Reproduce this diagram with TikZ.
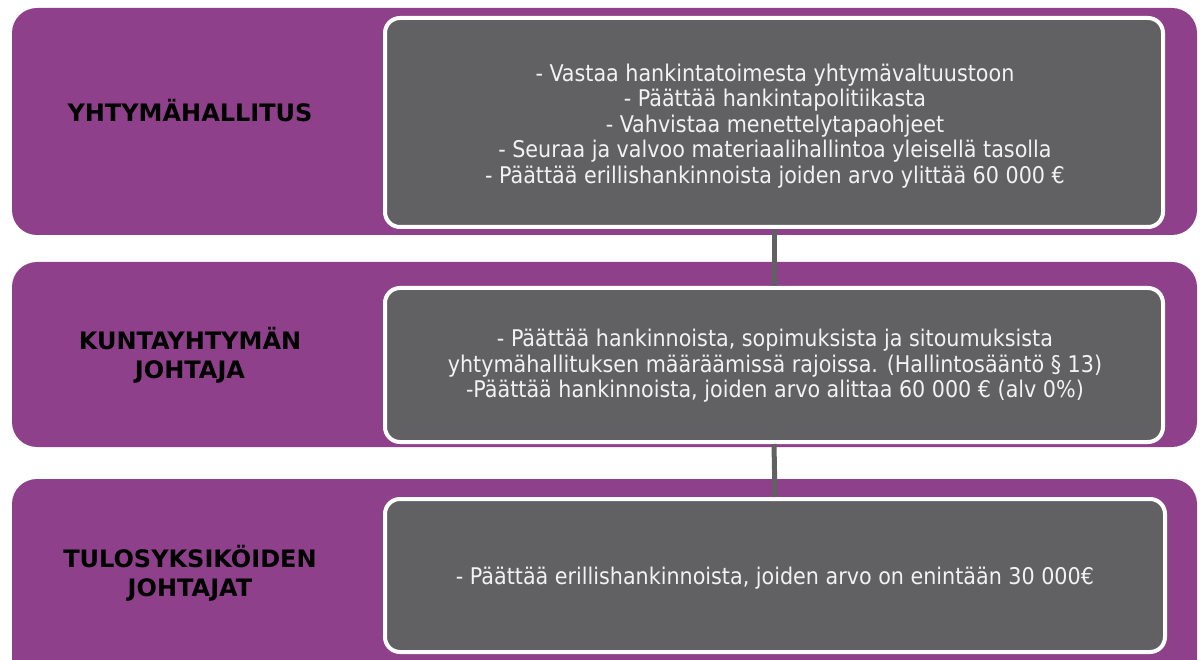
\documentclass[tikz,border=0pt]{standalone}
\usepackage{fontspec}
\setmainfont{DejaVu Sans}
\newfontfamily\condfont{DejaVu Sans Condensed}
\definecolor{bandpurple}{HTML}{8F408B}
\definecolor{boxgray}{HTML}{616063}
\definecolor{boxtext}{HTML}{F2F2F2}
\begin{document}
\begin{tikzpicture}[x=1pt,y=-1pt,
  band/.style={fill=bandpurple, draw=none, rounded corners=25pt},
  infobox/.style={fill=boxgray, draw=white, line width=4pt, rounded corners=15pt},
  infotext/.style={text=boxtext, align=center, inner sep=0pt, font=\condfont\fontsize{23}{25.5}\selectfont},
  label/.style={text=black, align=center, inner sep=0pt, font=\bfseries\fontsize{24}{29}\selectfont},
  conn/.style={draw=boxgray, line width=5pt}]
\useasboundingbox (0,0) rectangle (1200,660);
\clip (0,0) rectangle (1200,660);
% bands
\fill[band] (12,8) rectangle (1197,235);
\fill[band] (12,262) rectangle (1197,447);
\fill[band] (12,479) rectangle (1197,690);
% boxes
\draw[infobox] (385,18) rectangle (1163,227);
\draw[infobox] (385,288) rectangle (1163,442);
\draw[infobox] (385,499) rectangle (1165,652);
\coordinate (b1b) at (774,229);
\coordinate (b2t) at (774,286);
\coordinate (b2b) at (774,444);
\coordinate (b3t) at (775,497);
\node[infotext] (t1) at (775,126) {- Vastaa hankintatoimesta yhtymävaltuustoon\\- Päättää hankintapolitiikasta\\- Vahvistaa menettelytapaohjeet\\- Seuraa ja valvoo materiaalihallintoa yleisellä tasolla\\- Päättää erillishankinnoista joiden arvo ylittää 60 000 €};
\node[infotext] (t2) at (775,366) {- Päättää hankinnoista, sopimuksista ja sitoumuksista\\yhtymähallituksen määräämissä rajoissa. (Hallintosääntö § 13)\\-Päättää hankinnoista, joiden arvo alittaa 60 000 € (alv 0\%)};
\node[infotext] (t3) at (775,578) {- Päättää erillishankinnoista, joiden arvo on enintään 30 000€};
\node[label] (l1) at (190,111) {YHTYMÄHALLITUS};
\node[label] (l2) at (190,355) {KUNTAYHTYMÄN\\JOHTAJA};
\node[label] (l3) at (190,573) {TULOSYKSIKÖIDEN\\JOHTAJAT};
\draw[conn] (b1b) -- (b2t);
\draw[conn] (b2b) -- (b3t);
\end{tikzpicture}
\end{document}
